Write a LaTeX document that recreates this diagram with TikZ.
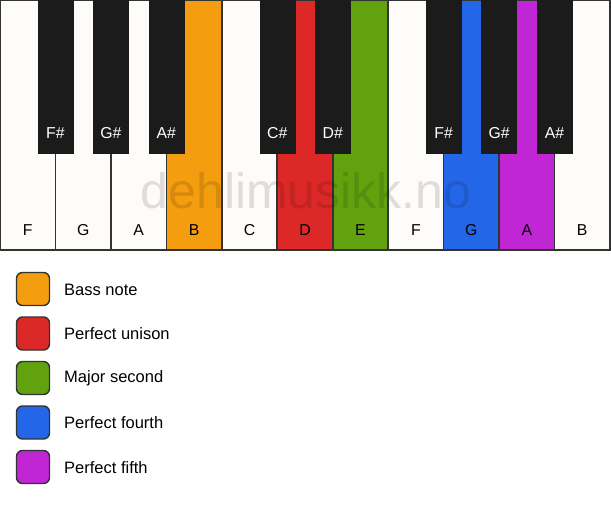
\documentclass[tikz,border=0pt]{standalone}
\usepackage{fontspec}
\setmainfont{Liberation Sans}
\definecolor{keywhite}{HTML}{FEFCF9}
\definecolor{keyblack}{HTML}{1B1B1B}
\definecolor{keyedge}{HTML}{333333}
\definecolor{cbass}{HTML}{F49E0F}
\definecolor{cunison}{HTML}{DD2828}
\definecolor{csecond}{HTML}{62A20F}
\definecolor{cfourth}{HTML}{2466E8}
\definecolor{cfifth}{HTML}{C026D3}
\tikzset{
  whitekey/.style={draw=keyedge, line width=1.6pt, fill=keywhite},
  blackkey/.style={fill=keyblack, draw=keyblack, line width=0.5pt},
  wlabel/.style={font=\fontsize{15.8}{18}\selectfont, text=black, anchor=base},
  blabel/.style={font=\fontsize{15.8}{18}\selectfont, text=white, anchor=base},
  legbox/.style={draw=keyedge, line width=1.4pt, rounded corners=6pt, minimum width=33pt, minimum height=33pt, inner sep=0pt},
  legtext/.style={font=\fontsize{16.5}{19}\selectfont, anchor=west, inner sep=0pt},
}
\begin{document}
\begin{tikzpicture}[x=1pt,y=-1pt]
\useasboundingbox (0,0) rectangle (611,506);
\fill[white] (0,0) rectangle (611,506);
\def\kw{55.45}
% white keys
\foreach \i/\n/\c in {0/F/keywhite,1/G/keywhite,2/A/keywhite,3/B/cbass,4/C/keywhite,5/D/cunison,6/E/csecond,7/F/keywhite,8/G/cfourth,9/A/cfifth,10/B/keywhite}{
  \draw[whitekey, fill=\c] ({\i*\kw},0) rectangle ({(\i+1)*\kw},250);
  \node[wlabel] (w\i) at ({(\i+0.5)*\kw},235) {\n};
}
% watermark
\node[font=\fontsize{50}{54}\selectfont, text=black, opacity=0.12, anchor=base] (wm) at (306,208) {dehlimusikk.no};
% black keys
\foreach \b/\n in {1/F\#,2/G\#,3/A\#,5/C\#,6/D\#,8/F\#,9/G\#,10/A\#}{
  \fill[blackkey] ({\b*\kw-17.5},0) rectangle ({\b*\kw+17.5},153);
  \node[blabel] (b\b) at ({\b*\kw},138) {\n};
}
% legend
\foreach \j/\c/\t in {0/cbass/Bass note,1/cunison/Perfect unison,2/csecond/Major second,3/cfourth/Perfect fourth,4/cfifth/Perfect fifth}{
  \node[legbox, fill=\c] (lb\j) at (33,{289+\j*44.5}) {};
  \node[legtext] (lt\j) at (64,{289.5+\j*44.5}) {\t};
}
\end{tikzpicture}
\end{document}
